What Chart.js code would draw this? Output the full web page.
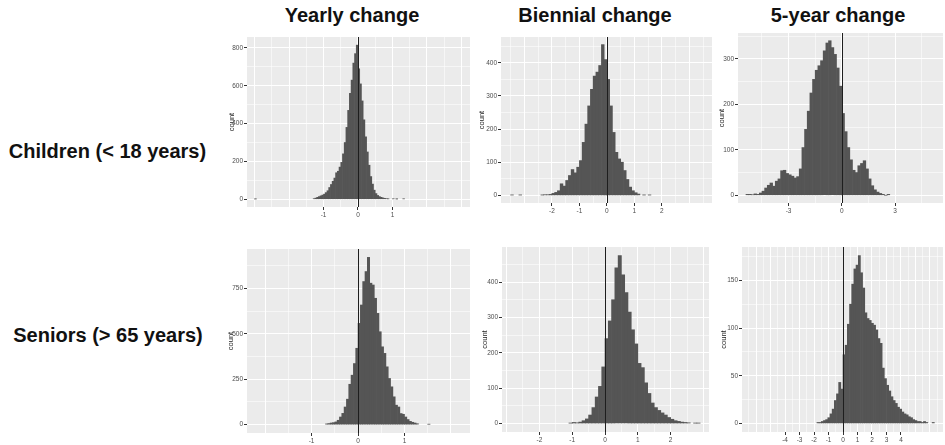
<!DOCTYPE html>
<html>
<head>
<meta charset="utf-8">
<script src="https://cdn.jsdelivr.net/npm/chart.js@4.4.1/dist/chart.umd.min.js"></script>
<style>
  body { margin: 0; background: #fff; width: 945px; height: 445px; position: relative; overflow: hidden;
         font-family: "Liberation Sans", Arial, sans-serif; }
  .lbl { position: absolute; font-weight: bold; font-size: 20px; color: #111; white-space: nowrap;
         transform: translate(-50%, -50%); }
  canvas { position: absolute; }
</style>
</head>
<body>
<script>
// titles
const colTitles = ['Yearly change', 'Biennial change', '5-year change'];
const rowTitles = ['Children (< 18 years)', 'Seniors (> 65 years)'];

// children, yearly change (bins of 0.05 from -1.30)
const childYearStart = -1.30, childYearWidth = 0.05;
const childYearCounts = [3, 6, 10, 14, 18, 22, 27, 35, 45, 62, 78, 95, 112, 140, 148, 170, 195, 240, 300, 380,
  470, 560, 630, 720, 770, 815, 690, 610, 520, 420, 330, 250, 180, 120, 80, 48, 30, 20, 14, 10, 7, 5, 3, 2];
const childYearOutX = [-3.0, 1.0, 1.1, 1.3];
const childYearOutN = [1, 2, 1, 2];

// children, biennial change (bins of 0.1 from -2.1)
const childBienStart = -2.1, childBienWidth = 0.1;
const childBienCounts = [3, 6, 9, 14, 35, 28, 45, 60, 78, 68, 85, 105, 160, 215, 270, 320, 360, 372, 392, 455,
  410, 350, 270, 190, 130, 110, 100, 75, 48, 25, 14, 8, 4];
const childBienOutX = [-3.5, -3.2, -2.4, -2.3, -2.2, 1.3, 1.5];
const childBienOutN = [1, 1, 1, 2, 2, 1, 1];

// children, 5-year change (bins of 0.15 from -5.40)
const child5Start = -5.40, child5Width = 0.15;
const child5Counts = [2, 2, 1, 3, 2, 5, 9, 16, 22, 27, 20, 31, 36, 54, 55, 48, 45, 42, 38, 41,
  58, 105, 145, 185, 225, 255, 275, 285, 296, 318, 335, 340, 325, 310, 280, 240, 180, 140, 105, 78,
  55, 50, 65, 70, 76, 58, 36, 21, 12, 7, 4, 2, 0, 2];
const child5OutX = [];
const child5OutN = [];

// seniors, yearly change (bins of 0.05 from -0.70)
const seniorYearStart = -0.70, seniorYearWidth = 0.05;
const seniorYearCounts = [4, 6, 9, 11, 15, 24, 42, 62, 97, 140, 222, 272, 336, 420, 557, 658, 787, 842, 920, 778,
  768, 695, 612, 511, 428, 392, 318, 254, 208, 153, 107, 97, 61, 57, 42, 28, 18, 13, 9, 5];
const seniorYearOutX = [1.5];
const seniorYearOutN = [2];

// seniors, biennial change (bins of 0.1 from -1.1)
const seniorBienStart = -1.1, seniorBienWidth = 0.1;
const seniorBienCounts = [1, 3, 2, 4, 8, 13, 24, 45, 75, 105, 160, 240, 290, 350, 440, 475, 420, 370, 315, 265,
  225, 170, 158, 115, 85, 58, 45, 37, 30, 24, 17, 12, 8, 6, 4, 3, 2];
const seniorBienOutX = [2.7, 2.8];
const seniorBienOutN = [1, 1];

// seniors, 5-year change (bins of 0.15 from -1.80)
const senior5Start = -1.80, senior5Width = 0.15;
const senior5Counts = [1, 1, 2, 3, 4, 6, 10, 15, 24, 31, 43, 36, 72, 82, 104, 125, 146, 162, 166, 176,
  158, 142, 116, 110, 108, 105, 103, 98, 89, 84, 58, 47, 40, 34, 28, 24, 21, 17, 15, 12,
  10, 9, 7, 6, 4, 3, 2, 2, 1, 2, 1];
const senior5OutX = [6.15];
const senior5OutN = [1];

// labelled ticks
const xLabels = [[-1, 0, 1], [-2, -1, 0, 1, 2], [-3, 0, 3], [-1, 0, 1], [-2, -1, 0, 1, 2], [-4, -3, -2, -1, 0, 1, 2, 3, 4]];
const yLabels = [[0, 200, 400, 600, 800], [0, 100, 200, 300, 400], [0, 100, 200, 300], [0, 250, 500, 750],
  [0, 100, 200, 300, 400], [0, 50, 100, 150]];

const panels = [
  { start: childYearStart, width: childYearWidth, counts: childYearCounts, outX: childYearOutX, outN: childYearOutN },
  { start: childBienStart, width: childBienWidth, counts: childBienCounts, outX: childBienOutX, outN: childBienOutN },
  { start: child5Start, width: child5Width, counts: child5Counts, outX: child5OutX, outN: child5OutN },
  { start: seniorYearStart, width: seniorYearWidth, counts: seniorYearCounts, outX: seniorYearOutX, outN: seniorYearOutN },
  { start: seniorBienStart, width: seniorBienWidth, counts: seniorBienCounts, outX: seniorBienOutX, outN: seniorBienOutN },
  { start: senior5Start, width: senior5Width, counts: senior5Counts, outX: senior5OutX, outN: senior5OutN }
];

// placement of each grey panel and its axes
const boxes = [
  { left: 247, top: 37, right: 470, bottom: 207, countX: 231.5, xMin: -3.22, xMax: 3.25, yMin: -41, yMax: 858, xGrid: 0.5, xMajor: 1, yGrid: 100, yMajor: 200 },
  { left: 501, top: 37, right: 712, bottom: 203, countX: 481, xMin: -3.85, xMax: 3.82, yMin: -23, yMax: 478, xGrid: 0.5, xMajor: 1, yGrid: 50, yMajor: 100 },
  { left: 738, top: 33, right: 943, bottom: 203, countX: 721.5, xMin: -5.85, xMax: 5.7, yMin: -17, yMax: 357, xGrid: 1.5, xMajor: 3, yGrid: 50, yMajor: 100 },
  { left: 247, top: 249, right: 470, bottom: 433, countX: 230.5, xMin: -2.39, xMax: 2.41, yMin: -46, yMax: 966, xGrid: 0.5, xMajor: 1, yGrid: 125, yMajor: 250 },
  { left: 502, top: 247, right: 709, bottom: 432, countX: 484.5, xMin: -3.14, xMax: 3.17, yMin: -24, yMax: 499, xGrid: 0.5, xMajor: 1, yGrid: 50, yMajor: 100 },
  { left: 742, top: 247, right: 943, bottom: 432, countX: 723.5, xMin: -6.97, xMax: 6.9, yMin: -9, yMax: 185, xGrid: 0.5, xMajor: 1, yGrid: 25, yMajor: 50 }
];
const colCenters = [352, 595, 838];
const rowCenters = [[107.5, 151], [108, 335]];

colTitles.forEach((t, i) => {
  const d = document.createElement('div');
  d.className = 'lbl'; d.textContent = t;
  d.style.left = colCenters[i] + 'px'; d.style.top = '15px';
  document.body.appendChild(d);
});
rowTitles.forEach((t, i) => {
  const d = document.createElement('div');
  d.className = 'lbl'; d.textContent = t;
  d.style.left = rowCenters[i][0] + 'px'; d.style.top = rowCenters[i][1] + 'px';
  document.body.appendChild(d);
});

function gridVals(min, max, step) {
  const out = [];
  for (let k = Math.ceil(min / step); k * step <= max; k++) out.push(Math.round(k * step * 1000) / 1000);
  return out;
}
const onStep = (v, s) => Math.abs(v / s - Math.round(v / s)) < 1e-6;

const panelBg = {
  id: 'panelBg',
  beforeDraw(chart) {
    const { ctx, chartArea: a } = chart;
    ctx.save();
    ctx.fillStyle = '#ebebeb';
    ctx.fillRect(a.left, a.top, a.width, a.height);
    ctx.restore();
  }
};
const zeroLine = {
  id: 'zeroLine',
  afterDatasetsDraw(chart) {
    const { ctx, chartArea: a, scales: { x } } = chart;
    const px = Math.round(x.getPixelForValue(0)) + 0.5;
    ctx.save();
    ctx.strokeStyle = '#1e1e1e';
    ctx.lineWidth = 1;
    ctx.beginPath();
    ctx.moveTo(px, a.top);
    ctx.lineTo(px, a.bottom);
    ctx.stroke();
    ctx.restore();
  }
};

panels.forEach((p, i) => {
  const b = boxes[i];
  const xH = 14;
  const cl = Math.round(b.countX - 4.5), ct = b.top - 1;
  const yW = b.left - cl;
  const w = b.right + 1 - cl, h = b.bottom - ct + xH;

  const cv = document.createElement('canvas');
  cv.width = w; cv.height = h;
  cv.style.left = cl + 'px'; cv.style.top = ct + 'px';
  cv.style.width = w + 'px'; cv.style.height = h + 'px';
  document.body.appendChild(cv);

  const pts = p.counts.map((n, k) => ({ x: p.start + (k + 0.5) * p.width, y: n }))
    .concat(p.outX.map((v, k) => ({ x: v + p.width / 2, y: p.outN[k] })));

  const xl = xLabels[i], yl = yLabels[i];
  const xg = gridVals(b.xMin, b.xMax, b.xGrid);
  const yg = gridVals(0, b.yMax, b.yGrid);

  new Chart(cv, {
    type: 'bar',
    data: {
      datasets: [{
        data: pts,
        backgroundColor: '#555555',
        borderWidth: 0,
        barPercentage: 1,
        categoryPercentage: 1
      }]
    },
    options: {
      responsive: false,
      animation: false,
      devicePixelRatio: 1,
      layout: { padding: { top: 1, right: 1, left: 0, bottom: 0 } },
      plugins: { legend: { display: false }, tooltip: { enabled: false } },
      scales: {
        x: {
          type: 'linear',
          min: b.xMin, max: b.xMax,
          offset: false,
          border: { display: false },
          grid: {
            offset: false,
            color: c => onStep(c.tick.value, b.xMajor) ? '#ffffff' : 'rgba(255,255,255,0.55)',
            lineWidth: 1,
            tickLength: 3,
            tickWidth: 1,
            tickColor: c => xl.some(v => Math.abs(v - c.tick.value) < 1e-6) ? '#333333' : 'rgba(0,0,0,0)'
          },
          afterBuildTicks: s => { s.ticks = xg.map(v => ({ value: v })); },
          afterFit: s => { s.height = xH; s.paddingLeft = 0; s.paddingRight = 0; },
          ticks: {
            autoSkip: false, maxRotation: 0, padding: 1,
            color: '#4d4d4d', font: { size: 6.5, family: 'Liberation Sans' },
            callback: v => xl.some(t => Math.abs(t - v) < 1e-6) ? String(Math.round(v)) : ''
          }
        },
        y: {
          min: b.yMin, max: b.yMax,
          border: { display: false },
          grid: {
            color: c => onStep(c.tick.value, b.yMajor) ? '#ffffff' : 'rgba(255,255,255,0.55)',
            lineWidth: 1,
            tickLength: 3,
            tickWidth: 1,
            tickColor: c => yl.includes(c.tick.value) ? '#333333' : 'rgba(0,0,0,0)'
          },
          afterBuildTicks: s => { s.ticks = yg.map(v => ({ value: v })); },
          afterFit: s => { s.width = yW; s.paddingTop = 0; s.paddingBottom = 0; },
          title: {
            display: true, text: 'count', padding: 0,
            color: '#222', font: { size: 7.5, family: 'Liberation Sans' }
          },
          ticks: {
            padding: 1,
            color: '#4d4d4d', font: { size: 6.5, family: 'Liberation Sans' },
            callback: v => yl.includes(v) ? String(v) : ''
          }
        }
      }
    },
    plugins: [panelBg, zeroLine]
  });
});
</script>
</body>
</html>
